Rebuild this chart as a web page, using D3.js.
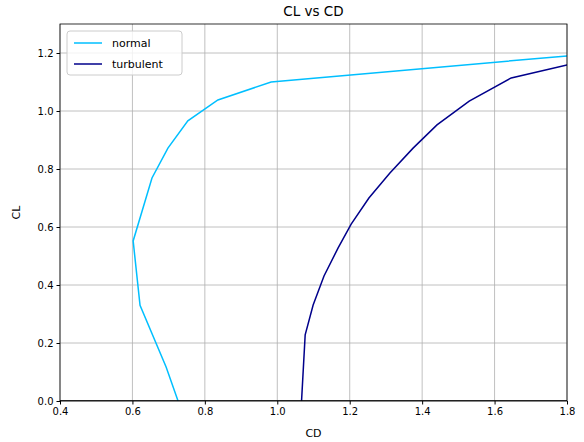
<!DOCTYPE html>
<html>
<head>
<meta charset="UTF-8">
<script src="https://d3js.org/d3.v7.min.js"></script>
<style>
  body { margin: 0; background: #fff; font-family: "DejaVu Sans", sans-serif; }
</style>
</head>
<body>
<div id="chart"></div>
<script>
// CL vs CD data
const normalCD = [0.726, 0.693, 0.621, 0.602, 0.654, 0.698, 0.753, 0.836, 0.983, 1.80, 1.90];
const normalCL = [0.0, 0.117, 0.33, 0.552, 0.769, 0.872, 0.966, 1.038, 1.10, 1.19, 1.20];
const turbCD = [1.066, 1.067, 1.077, 1.099, 1.129, 1.168, 1.204, 1.253, 1.311, 1.375, 1.441, 1.53, 1.646, 1.80, 1.90];
const turbCL = [-0.05, 0.0, 0.228, 0.331, 0.431, 0.528, 0.61, 0.70, 0.786, 0.872, 0.952, 1.034, 1.114, 1.159, 1.19];
const xTicks = [0.4, 0.6, 0.8, 1.0, 1.2, 1.4, 1.6, 1.8];
const yTicks = [0.0, 0.2, 0.4, 0.6, 0.8, 1.0, 1.2];

const W = 584, H = 442;
const margin = {top: 24, right: 17, bottom: 41, left: 60};
const w = W - margin.left - margin.right, h = H - margin.top - margin.bottom;

const svg = d3.select("#chart").append("svg").attr("width", W).attr("height", H);
const g = svg.append("g").attr("transform", `translate(${margin.left},${margin.top})`);

const x = d3.scaleLinear().domain([0.4, 1.8]).range([0, w]);
const y = d3.scaleLinear().domain([0, 1.3]).range([h, 0]);

svg.append("defs").append("clipPath").attr("id", "clip")
  .append("rect").attr("width", w).attr("height", h);

// grid
g.selectAll(".gx").data(xTicks).enter().append("line")
  .attr("x1", d => x(d)).attr("x2", d => x(d)).attr("y1", 0).attr("y2", h)
  .attr("stroke", "#b0b0b0").attr("stroke-width", 0.8);
g.selectAll(".gy").data(yTicks).enter().append("line")
  .attr("y1", d => y(d)).attr("y2", d => y(d)).attr("x1", 0).attr("x2", w)
  .attr("stroke", "#b0b0b0").attr("stroke-width", 0.8);

const line = d3.line().x(d => x(d[0])).y(d => y(d[1]));
const plot = g.append("g").attr("clip-path", "url(#clip)");
plot.append("path").datum(d3.zip(normalCD, normalCL)).attr("d", line)
  .attr("fill", "none").attr("stroke", "deepskyblue").attr("stroke-width", 1.5);
plot.append("path").datum(d3.zip(turbCD, turbCL)).attr("d", line)
  .attr("fill", "none").attr("stroke", "darkblue").attr("stroke-width", 1.5);
plot.append("line").attr("x1", 0).attr("x2", w).attr("y1", y(0)).attr("y2", y(0))
  .attr("stroke", "black").attr("stroke-width", 1.5);

// axes
const xAxis = g.append("g").attr("transform", `translate(0,${h})`)
  .call(d3.axisBottom(x).tickValues(xTicks).tickFormat(d3.format(".1f")).tickSizeOuter(0).tickSize(3.5));
const yAxis = g.append("g")
  .call(d3.axisLeft(y).tickValues(yTicks).tickFormat(d3.format(".1f")).tickSizeOuter(0).tickSize(3.5));
[xAxis, yAxis].forEach(a => {
  a.selectAll("text").attr("font-size", 10).attr("font-family", "DejaVu Sans").attr("fill", "#000");
  a.select(".domain").remove();
});
g.append("rect").attr("width", w).attr("height", h).attr("fill", "none").attr("stroke", "#000").attr("stroke-width", 0.8);

svg.append("text").attr("x", margin.left + w / 2).attr("y", 16).attr("text-anchor", "middle")
  .attr("font-size", 13.5).text("CL vs CD");
svg.append("text").attr("x", margin.left + w / 2).attr("y", 437).attr("text-anchor", "middle")
  .attr("font-size", 11).text("CD");
svg.append("text").attr("transform", `translate(20,${margin.top + h / 2}) rotate(-90)`)
  .attr("text-anchor", "middle").attr("font-size", 11).text("CL");

// legend
const leg = g.append("g").attr("transform", "translate(7,7)");
leg.append("rect").attr("width", 115).attr("height", 44).attr("rx", 3)
  .attr("fill", "white").attr("fill-opacity", 0.8).attr("stroke", "#ccc");
[["normal", "deepskyblue"], ["turbulent", "darkblue"]].forEach((d, i) => {
  leg.append("line").attr("x1", 7).attr("x2", 35).attr("y1", 12 + i * 21).attr("y2", 12 + i * 21)
    .attr("stroke", d[1]).attr("stroke-width", 1.5);
  leg.append("text").attr("x", 45).attr("y", 16 + i * 21).attr("font-size", 11).text(d[0]);
});
</script>
</body>
</html>
